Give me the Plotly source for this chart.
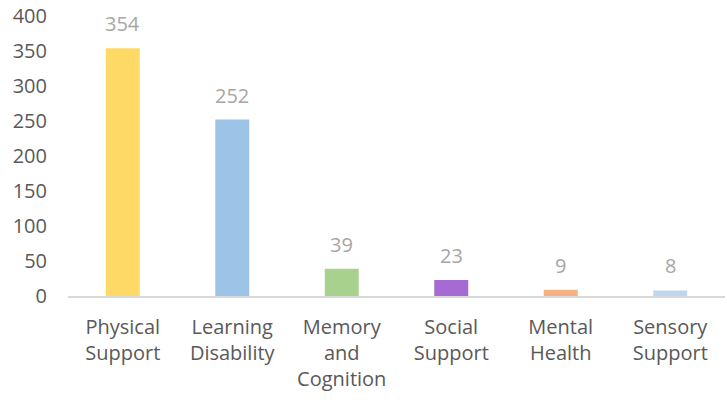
import plotly.graph_objects as go

categories = ["Physical<br>Support", "Learning<br>Disability", "Memory<br>and<br>Cognition",
              "Social<br>Support", "Mental<br>Health", "Sensory<br>Support"]
values = [354, 252, 39, 23, 9, 8]
colors = ["#FFD966", "#9DC3E6", "#A9D18E", "#A66BD3", "#F4B183", "#BDD7EE"]
y_ticks = [0, 50, 100, 150, 200, 250, 300, 350, 400]

fig = go.Figure(go.Bar(
    x=categories, y=values, marker_color=colors, marker_line_width=0,
    cliponaxis=False,
))
for c, v in zip(categories, values):
    fig.add_annotation(x=c, y=v, text=str(v), showarrow=False, yanchor="bottom",
                       yshift=9, font=dict(color="#A6A6A6", size=20, family="Open Sans"))
fig.update_layout(
    width=727, height=400,
    margin=dict(l=68, r=2, t=16, b=104),
    paper_bgcolor="white", plot_bgcolor="white",
    bargap=0.69, showlegend=False,
    font=dict(family="Open Sans", color="#595959", size=20),
)
fig.update_yaxes(range=[0, 400], tickvals=y_ticks, showgrid=False, zeroline=False,
                 showline=False, ticks="", ticklabelstandoff=20, automargin=False,
                 ticklabeloverflow="allow",
                 tickfont=dict(size=20, color="#595959"))
fig.update_xaxes(showline=True, linecolor="#D9D9D9", linewidth=1.5, ticks="",
                 tickangle=0, ticklabelstandoff=12, automargin=False,
                 ticklabeloverflow="allow",
                 tickfont=dict(size=20, color="#595959"))
fig.write_html("out.html", config={"displayModeBar": False},
               post_script="document.body.style.margin='0';document.body.style.overflow='hidden';")
